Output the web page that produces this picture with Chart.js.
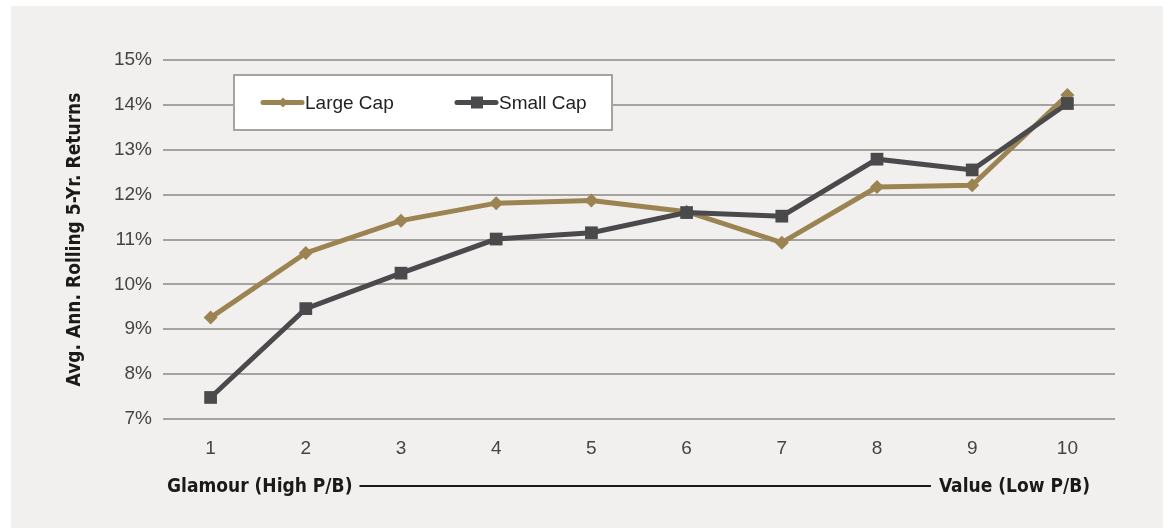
<!DOCTYPE html>
<html>
<head>
<meta charset="utf-8">
<script src="https://cdn.jsdelivr.net/npm/chart.js@4"></script>
<style>
  html, body { margin: 0; padding: 0; background: #ffffff; }
  .panel {
    position: absolute; left: 11px; top: 6px; width: 1152px; height: 522px;
    background: #f1f0ee;
  }
  .wrap { position: absolute; left: 0; top: 0; width: 1168px; height: 529px; }
</style>
</head>
<body>
<div class="panel"></div>
<div class="wrap"><canvas id="chart"></canvas></div>
<script>
const deciles = ["1", "2", "3", "4", "5", "6", "7", "8", "9", "10"];
const largeCap = [9.26, 10.70, 11.42, 11.81, 11.87, 11.62, 10.93, 12.17, 12.21, 14.22];
const smallCap = [7.48, 9.46, 10.25, 11.01, 11.15, 11.60, 11.52, 12.79, 12.55, 14.03];
const yTicks = [7, 8, 9, 10, 11, 12, 13, 14, 15];

const gold = "#9b8451";
const slate = "#4a494c";
const narrow = "'Liberation Sans Narrow', 'DejaVu Sans Condensed', sans-serif";
const plain = "'Liberation Sans', Arial, sans-serif";

//legend box floating inside the plot, plus the glamour -> value arrow line
const extras = {
  id: "extras",
  afterDraw(chart) {
    const { ctx, chartArea } = chart;
    ctx.save();

    // legend
    const bx = chartArea.left + 71, by = chartArea.top + 15, bw = 378, bh = 55;
    ctx.fillStyle = "#ffffff";
    ctx.fillRect(bx, by, bw, bh);
    ctx.strokeStyle = "#a3a3a3";
    ctx.lineWidth = 2;
    ctx.strokeRect(bx, by, bw, bh);

    const cy = by + bh / 2;
    const items = [
      { ds: chart.data.datasets[0], x: bx + 29 },
      { ds: chart.data.datasets[1], x: bx + 223 },
    ];
    ctx.font = "19px " + plain;
    ctx.textBaseline = "middle";
    items.forEach(({ ds, x }) => {
      ctx.strokeStyle = ds.borderColor;
      ctx.lineWidth = 5;
      ctx.lineCap = "round";
      ctx.beginPath();
      ctx.moveTo(x, cy);
      ctx.lineTo(x + 39, cy);
      ctx.stroke();
      ctx.fillStyle = ds.borderColor;
      const mx = x + 20;
      if (ds.pointStyle === "rect") {
        ctx.fillRect(mx - 6, cy - 6, 12, 12);
      } else {
        ctx.beginPath();
        ctx.moveTo(mx, cy - 5);
        ctx.lineTo(mx + 5, cy);
        ctx.lineTo(mx, cy + 5);
        ctx.lineTo(mx - 5, cy);
        ctx.closePath();
        ctx.fill();
      }
      ctx.fillStyle = "#222222";
      ctx.textAlign = "left";
      ctx.fillText(ds.label, x + 42, cy + 1);
    });

    // bottom annotation
    const ly = 486;
    ctx.font = "bold 19px " + narrow;
    ctx.fillStyle = "#1a1a1a";
    ctx.textBaseline = "middle";
    ctx.textAlign = "left";
    const leftText = "Glamour (High P/B)";
    const lx = chartArea.left + 4;
    ctx.fillText(leftText, lx, ly + 1);
    const lw = ctx.measureText(leftText).width;
    const rightText = "Value (Low P/B)";
    ctx.textAlign = "right";
    const rx = chartArea.right - 25;
    ctx.fillText(rightText, rx, ly + 1);
    const rw = ctx.measureText(rightText).width;
    ctx.strokeStyle = "#1a1a1a";
    ctx.lineWidth = 2;
    ctx.lineCap = "butt";
    ctx.beginPath();
    ctx.moveTo(lx + lw + 7, ly);
    ctx.lineTo(rx - rw - 8, ly);
    ctx.stroke();

    ctx.restore();
  },
};

new Chart(document.querySelector("#chart").getContext("2d"), {
  type: "line",
  data: {
    labels: deciles,
    datasets: [
      {
        label: "Large Cap",
        data: largeCap,
        borderColor: gold,
        backgroundColor: gold,
        borderWidth: 5,
        pointStyle: "rectRot",
        pointRadius: 7,
        pointBorderWidth: 0,
        tension: 0,
        order: 1,
      },
      {
        label: "Small Cap",
        data: smallCap,
        borderColor: slate,
        backgroundColor: slate,
        borderWidth: 5,
        pointStyle: "rect",
        pointRadius: 9,
        pointBorderWidth: 0,
        tension: 0,
        order: 0,
      },
    ],
  },
  options: {
    responsive: true,
    maintainAspectRatio: false,
    animation: false,
    layout: { padding: { left: 60, right: 53, top: 60, bottom: 60 } },
    plugins: {
      legend: { display: false },
      tooltip: { enabled: false },
    },
    scales: {
      x: {
        offset: true,
        grid: { display: false },
        border: { display: false },
        ticks: {
          color: "#444444",
          font: { family: plain, size: 19 },
          padding: 10,
        },
        afterFit(scale) {
          scale.height = 50;
        },
      },
      y: {
        min: 7,
        max: 15,
        afterBuildTicks(scale) {
          scale.ticks = yTicks.map((v) => ({ value: v }));
        },
        grid: { color: "#a5a3a0", lineWidth: 2, drawTicks: false },
        border: { display: false },
        ticks: {
          color: "#444444",
          font: { family: plain, size: 19 },
          padding: 11,
          callback: (v) => v + "%",
        },
        title: {
          display: true,
          text: "Avg. Ann. Rolling 5-Yr. Returns",
          color: "#1a1a1a",
          font: { family: narrow, size: 19, weight: "bold" },
        },
        afterFit(scale) {
          scale.width = 103;
        },
      },
    },
  },
  plugins: [extras],
});
</script>
</body>
</html>
